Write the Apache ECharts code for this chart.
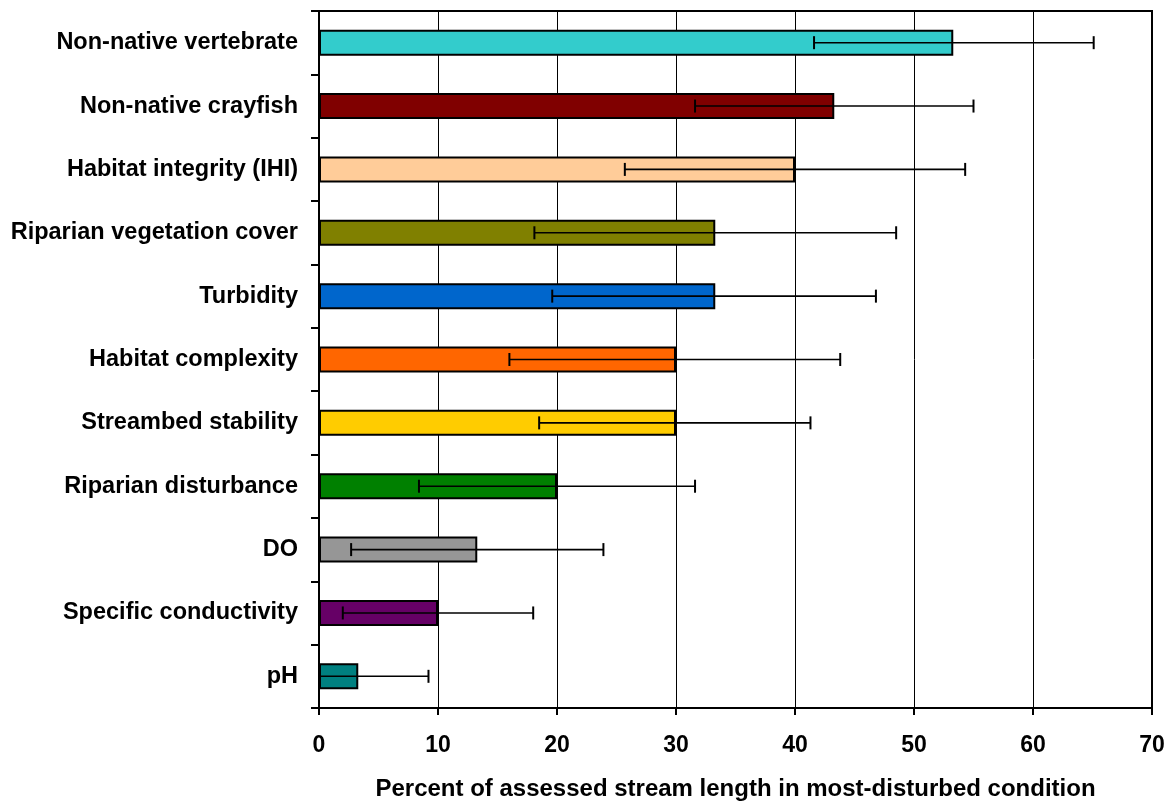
<!DOCTYPE html>
<html>
<head>
<meta charset="utf-8">
<script src="https://cdn.jsdelivr.net/npm/echarts@6/dist/echarts.min.js"></script>
<style>
  html, body { margin: 0; padding: 0; background: #fff; }
  #chart { width: 1168px; height: 801px; }
</style>
</head>
<body>
<div id="chart"></div>
<script>
// Stressor indicators, top to bottom
const categories = [
  'Non-native vertebrate', 'Non-native crayfish', 'Habitat integrity (IHI)',
  'Riparian vegetation cover', 'Turbidity', 'Habitat complexity',
  'Streambed stability', 'Riparian disturbance', 'DO',
  'Specific conductivity', 'pH'
];
// Percent of stream length in most-disturbed condition
const percentValues = [53.3, 43.3, 40.0, 33.3, 33.3, 30.0, 30.0, 20.0, 13.3, 10.0, 3.3];
// Confidence interval bounds
const lowerBounds = [41.6, 31.6, 25.7, 18.1, 19.6, 16.0, 18.5, 8.4, 2.7, 2.0, 0];
const upperBounds = [65.1, 55.0, 54.3, 48.5, 46.8, 43.8, 41.3, 31.6, 23.9, 18.0, 9.2];
const barColors = [
  '#33CCCC', '#800000', '#FFCC99', '#808000', '#0066CC', '#FF6600',
  '#FFCC00', '#008000', '#969696', '#660066', '#008080'
];
const xTicks = [0, 10, 20, 30, 40, 50, 60, 70];

const font = "'Liberation Sans', Arial, sans-serif";
const chart = echarts.init(document.getElementById('chart'), null, { renderer: 'canvas' });

chart.setOption({
  animation: false,
  backgroundColor: '#ffffff',
  grid: {
    left: 319, right: 16, top: 11, bottom: 93,
    outerBoundsMode: 'none',
    containLabel: false,
    show: true, borderColor: '#000', borderWidth: 2, backgroundColor: 'transparent'
  },
  xAxis: {
    type: 'value',
    min: xTicks[0],
    max: xTicks[xTicks.length - 1],
    interval: 10,
    axisLine: { show: true, lineStyle: { color: '#000', width: 2 } },
    axisTick: { show: true, length: 7, inside: false, lineStyle: { color: '#000', width: 2 } },
    splitLine: { show: true, lineStyle: { color: '#000', width: 1 } },
    axisLabel: { color: '#000', fontFamily: font, fontWeight: 'bold', fontSize: 23, margin: 26 },
    name: 'Percent of assessed stream length in most-disturbed condition',
    nameLocation: 'middle',
    nameGap: 69,
    nameTextStyle: { color: '#000', fontFamily: font, fontWeight: 'bold', fontSize: 24 }
  },
  yAxis: {
    type: 'category',
    data: categories,
    inverse: true,
    boundaryGap: true,
    axisLine: { show: true, lineStyle: { color: '#000', width: 2 } },
    axisTick: { show: true, interval: 0, alignWithLabel: false, length: 8, lineStyle: { color: '#000', width: 2 } },
    splitLine: { show: false },
    axisLabel: { color: '#000', fontFamily: font, fontWeight: 'bold', fontSize: 23.5, margin: 21, interval: 0 }
  },
  series: [
    {
      type: 'bar',
      barWidth: 26,
      data: percentValues.map((v, i) => ({
        value: v,
        itemStyle: { color: barColors[i], borderColor: '#000', borderWidth: 2 }
      })),
      z: 2
    },
    {
      type: 'custom',
      z: 5,
      data: categories.map((c, i) => [i, lowerBounds[i], upperBounds[i]]),
      encode: { y: 0, x: [1, 2] },
      renderItem: function (params, api) {
        const idx = api.value(0);
        const lo = api.coord([api.value(1), idx]);
        const hi = api.coord([api.value(2), idx]);
        const half = 6.5;
        const style = { stroke: '#000', lineWidth: 1.6 };
        return {
          type: 'group',
          children: [
            { type: 'line', shape: { x1: lo[0], y1: lo[1], x2: hi[0], y2: hi[1] }, style: style },
            { type: 'line', shape: { x1: lo[0], y1: lo[1] - half, x2: lo[0], y2: lo[1] + half }, style: { stroke: '#000', lineWidth: 2 } },
            { type: 'line', shape: { x1: hi[0], y1: hi[1] - half, x2: hi[0], y2: hi[1] + half }, style: { stroke: '#000', lineWidth: 2 } }
          ]
        };
      }
    }
  ]
});
</script>
</body>
</html>
